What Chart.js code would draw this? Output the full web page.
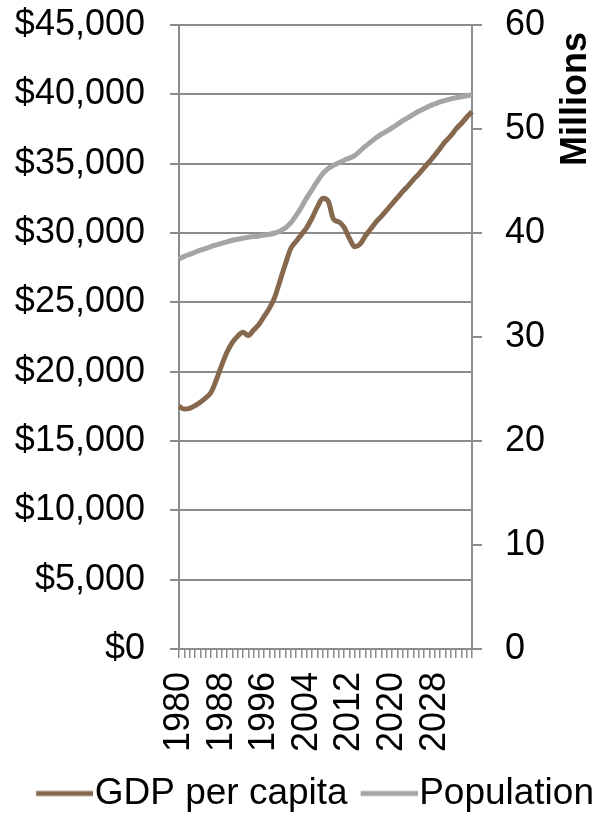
<!DOCTYPE html>
<html>
<head>
<meta charset="utf-8">
<script src="https://cdn.jsdelivr.net/npm/chart.js@4/dist/chart.umd.min.js"></script>
<style>
  html, body { margin: 0; padding: 0; background: #ffffff; }
  #wrap { width: 594px; height: 822px; }
</style>
</head>
<body>
<div id="wrap"><canvas id="c" width="594" height="822"></canvas></div>
<script>
const years = [];
for (let y = 1980; y <= 2035; y++) years.push(String(y));

const gdpPerCapita = [
  17500, 17300, 17350, 17550, 17800, 18100, 18500, 19400, 20450, 21400,
  22100, 22550, 22850, 22600, 23000, 23400, 24000, 24600, 25400, 26600,
  27800, 28900, 29400, 29900, 30400, 31100, 31900, 32500, 32300, 31000,
  30800, 30400, 29600, 29000, 29200, 29800, 30300, 30800, 31200, 31650,
  32100, 32550, 33000, 33400, 33850, 34250, 34700, 35150, 35600, 36100,
  36600, 37000, 37500, 37900, 38350, 38750
];

const populationMillions = [
  37.5, 37.75, 37.95, 38.15, 38.35, 38.5, 38.7, 38.85, 39.0, 39.15,
  39.3, 39.4, 39.5, 39.6, 39.65, 39.72, 39.8, 39.88, 40.0, 40.2,
  40.5, 41.0, 41.7, 42.5, 43.4, 44.2, 45.0, 45.7, 46.2, 46.5,
  46.75, 47.0, 47.2, 47.45, 47.9, 48.35, 48.75, 49.15, 49.5, 49.8,
  50.1, 50.45, 50.8, 51.1, 51.4, 51.7, 51.95, 52.2, 52.4, 52.6,
  52.75, 52.9, 53.0, 53.1, 53.2, 53.3
];

const seriesNames = ['GDP per capita', 'Population'];
const leftTicks = [0, 5000, 10000, 15000, 20000, 25000, 30000, 35000, 40000, 45000];
const rightTicks = [0, 10, 20, 30, 40, 50, 60];
const rightAxisTitle = 'Millions';

const GDP_COLOR = '#86684f';
const POP_COLOR = '#a6a4a4';
const GRID = '#8c8c8c';
const FONT = '"Liberation Sans", Arial, sans-serif';

function legendImage(color) {
  const c = document.createElement('canvas');
  c.width = 87; c.height = 8;
  const g = c.getContext('2d');
  g.strokeStyle = color;
  g.lineWidth = 5;
  g.beginPath();
  g.moveTo(30, 4);
  g.lineTo(87, 4);
  g.stroke();
  return c;
}
const legendImgs = [legendImage(GDP_COLOR), legendImage(POP_COLOR)];

const millionsPlugin = {
  id: 'millions',
  afterDraw(chart) {
    const ctx = chart.ctx;
    ctx.save();
    ctx.translate(576, 99);
    ctx.rotate(-Math.PI / 2);
    ctx.font = 'bold 36px ' + FONT;
    ctx.fillStyle = '#000';
    ctx.textAlign = 'center';
    ctx.textBaseline = 'middle';
    ctx.fillText(rightAxisTitle, 0, 0);
    ctx.restore();
  }
};

new Chart(document.getElementById('c'), {
  type: 'line',
  data: {
    labels: years,
    datasets: [
      {
        label: seriesNames[0],
        data: gdpPerCapita,
        yAxisID: 'y',
        borderColor: GDP_COLOR,
        backgroundColor: GDP_COLOR,
        borderWidth: 5,
        pointRadius: 0,
        cubicInterpolationMode: 'monotone',
        fill: false
      },
      {
        label: seriesNames[1],
        data: populationMillions,
        yAxisID: 'y1',
        borderColor: POP_COLOR,
        backgroundColor: POP_COLOR,
        borderWidth: 5,
        pointRadius: 0,
        cubicInterpolationMode: 'monotone',
        fill: false
      }
    ]
  },
  options: {
    responsive: false,
    animation: false,
    devicePixelRatio: 1,
    layout: { padding: { left: 15, right: 0, top: 0, bottom: 0 } },
    plugins: {
      tooltip: { enabled: false },
      legend: {
        display: true,
        position: 'bottom',
        align: 'end',
        labels: {
          usePointStyle: true,
          pointStyleWidth: 53,
          padding: 0,
          color: '#000',
          font: { family: FONT, size: 37 },
          generateLabels(chart) {
            return chart.data.datasets.map((ds, i) => ({
              text: ds.label,
              pointStyle: legendImgs[i],
              fillStyle: ds.borderColor,
              strokeStyle: ds.borderColor,
              lineWidth: 0,
              hidden: false,
              datasetIndex: i
            }));
          }
        }
      }
    },
    scales: {
      x: {
        type: 'category',
        offset: false,
        afterFit(scale) { scale.height = 126; },
        grid: {
          display: true,
          drawOnChartArea: false,
          drawTicks: true,
          tickLength: 9,
          color: GRID,
          lineWidth: 1.5
        },
        border: { display: true, color: GRID, width: 2 },
        ticks: {
          autoSkip: false,
          minRotation: 90,
          maxRotation: 90,
          padding: 14,
          color: '#000',
          font: { family: FONT, size: 36 },
          callback(value, index) {
            const lbl = this.getLabelForValue(value);
            return ((Number(lbl) - 1980) % 8 === 0) ? lbl : '';
          }
        }
      },
      y: {
        position: 'left',
        min: 0,
        max: 45000,
        afterBuildTicks(scale) { scale.ticks = leftTicks.map(v => ({ value: v })); },
        afterFit(scale) { scale.width = 164; scale.paddingTop = 25; scale.paddingBottom = 0; },
        grid: { color: GRID, lineWidth: 2, drawTicks: true, tickLength: 9 },
        border: { display: true, color: GRID, width: 2 },
        ticks: {
          padding: 25,
          color: '#000',
          font: { family: FONT, size: 36 },
          callback(v) { return '$' + Number(v).toLocaleString('en-US'); }
        }
      },
      y1: {
        position: 'right',
        min: 0,
        max: 60,
        afterBuildTicks(scale) { scale.ticks = rightTicks.map(v => ({ value: v })); },
        afterFit(scale) { scale.width = 122; scale.paddingTop = 25; scale.paddingBottom = 0; },
        grid: { drawOnChartArea: false, drawTicks: true, tickLength: 10, color: GRID, lineWidth: 2 },
        border: { display: true, color: GRID, width: 2 },
        ticks: {
          padding: 23,
          color: '#000',
          font: { family: FONT, size: 36 }
        }
      }
    }
  },
  plugins: [millionsPlugin]
});
</script>
</body>
</html>
